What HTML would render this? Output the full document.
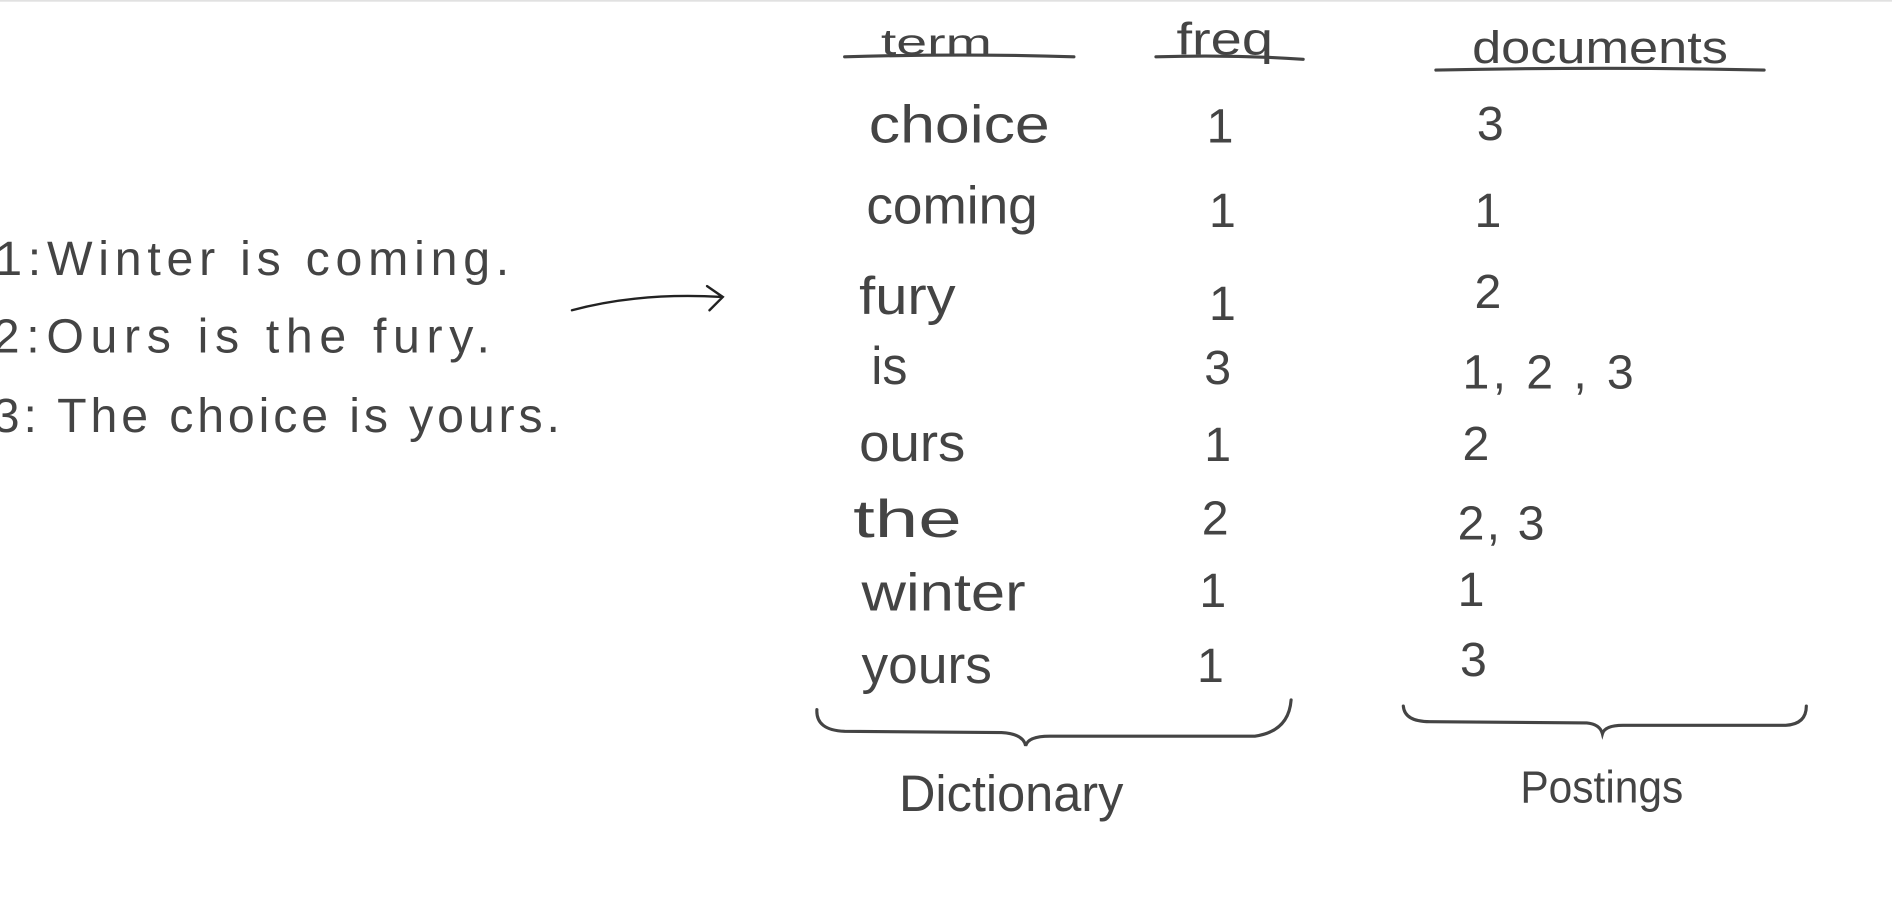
<!DOCTYPE html>
<html><head><meta charset="utf-8"><style>
html,body{margin:0;padding:0;background:#fff;width:1892px;height:898px;overflow:hidden}
svg{display:block}
text{font-family:"Liberation Sans","DejaVu Sans",sans-serif;fill:#444}
</style></head><body>
<svg width="1892" height="898" viewBox="0 0 1568 744" xmlns="http://www.w3.org/2000/svg">
<line x1="0" y1="0.6" x2="1568" y2="0.6" stroke="#ddd" stroke-width="1.2"/>
<g stroke="#444" stroke-width="2.6" fill="none" stroke-linecap="round">
<path d="M700 47 Q800 44 890 47"/>
<path d="M958 47 Q1020 45 1080 49"/>
<path d="M1190 58 Q1330 55 1462 58"/>
<path d="M677 588 Q676 605 700 606 L830 607 Q848 608 850 618 Q852 610 870 610 L1040 610 Q1068 606 1070 580"/>
<path d="M1163 585 Q1164 598 1185 598 L1315 599 Q1326 600 1328 608 Q1330 601 1345 601 L1480 601 Q1497 600 1497 585"/>
</g>
<path d="M474 257 Q530 242 598 246 M586 237 L599 246 L588 257" stroke="#222" stroke-width="2" fill="none" stroke-linecap="round"/>
<g font-size="38">
<text x="730" y="45" textLength="92" lengthAdjust="spacingAndGlyphs" font-size="30">term</text>
<text x="975" y="45" textLength="80" lengthAdjust="spacingAndGlyphs">freq</text>
<text x="1220" y="52" textLength="212" lengthAdjust="spacingAndGlyphs">documents</text>
</g>
<g font-size="44">
<text x="720" y="118" textLength="150" lengthAdjust="spacingAndGlyphs">choice</text>
<text x="718" y="185" textLength="142" lengthAdjust="spacingAndGlyphs">coming</text>
<text x="712" y="260" textLength="80" lengthAdjust="spacingAndGlyphs">fury</text>
<text x="722" y="318" textLength="30" lengthAdjust="spacingAndGlyphs">is</text>
<text x="712" y="382" textLength="88" lengthAdjust="spacingAndGlyphs">ours</text>
<text x="707" y="445" textLength="90" lengthAdjust="spacingAndGlyphs">the</text>
<text x="714" y="506" textLength="136" lengthAdjust="spacingAndGlyphs">winter</text>
<text x="714" y="566" textLength="108" lengthAdjust="spacingAndGlyphs">yours</text>
</g>
<g font-size="40">
<text x="1000" y="118">1</text>
<text x="1002" y="188">1</text>
<text x="1002" y="265">1</text>
<text x="998" y="318">3</text>
<text x="998" y="382">1</text>
<text x="996" y="443">2</text>
<text x="994" y="503">1</text>
<text x="992" y="565">1</text>
<text x="1224" y="116">3</text>
<text x="1222" y="188">1</text>
<text x="1222" y="255">2</text>
<text x="1212" y="322" textLength="142" lengthAdjust="spacing">1,  2 ,  3</text>
<text x="1212" y="381">2</text>
<text x="1208" y="447" textLength="72" lengthAdjust="spacing">2, 3</text>
<text x="1208" y="502">1</text>
<text x="1210" y="560">3</text>
</g>
<text x="745" y="672" font-size="42" textLength="186" lengthAdjust="spacingAndGlyphs">Dictionary</text>
<text x="1260" y="665" font-size="38" textLength="135" lengthAdjust="spacingAndGlyphs">Postings</text>
<g font-size="40">
<text x="-4" y="228" textLength="426" lengthAdjust="spacing">1:Winter  is  coming.</text>
<text x="-6" y="292" textLength="412" lengthAdjust="spacing">2:Ours  is  the  fury.</text>
<text x="-6" y="358" textLength="470" lengthAdjust="spacing">3: The choice  is  yours.</text>
</g>
</svg>
</body></html>
